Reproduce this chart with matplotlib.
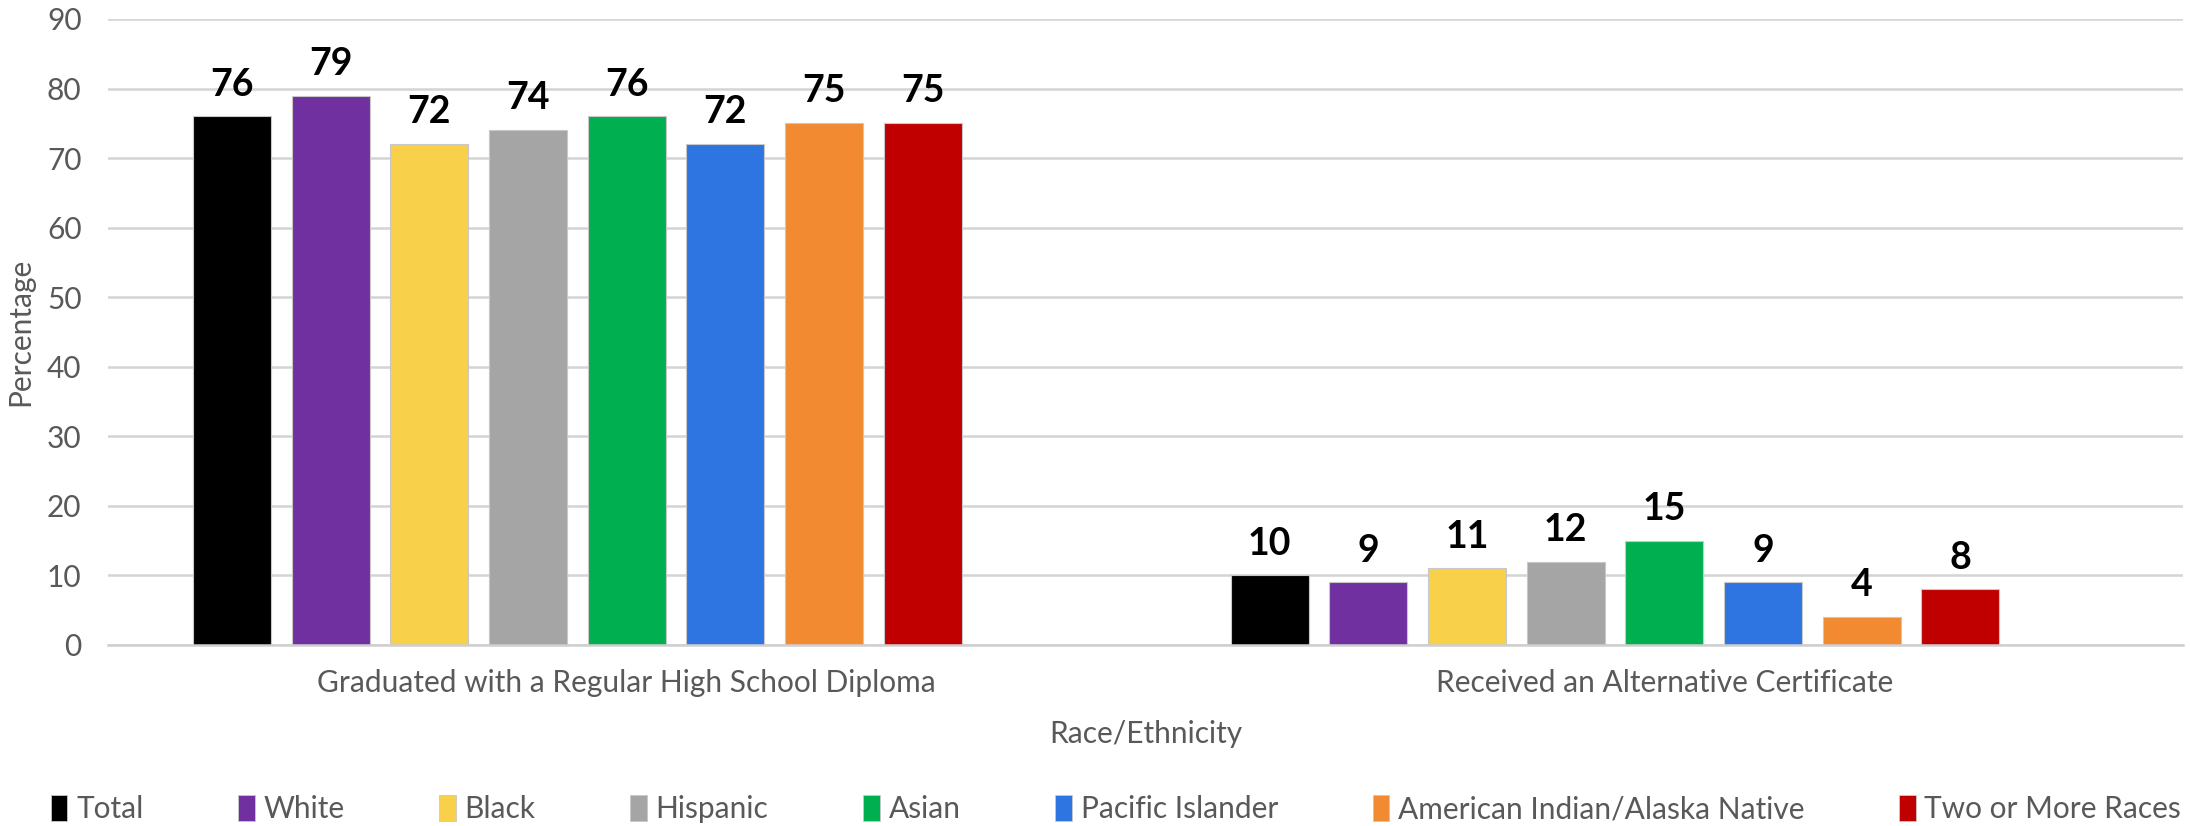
import matplotlib
matplotlib.use("Agg")
import matplotlib.pyplot as plt
from matplotlib.patches import Patch
import numpy as np

categories = ["Graduated with a Regular High School Diploma", "Received an Alternative Certificate"]
series_names = ["Total", "White", "Black", "Hispanic", "Asian", "Pacific Islander",
                "American Indian/Alaska Native", "Two or More Races"]
values = {
    "Total": [76, 10],
    "White": [79, 9],
    "Black": [72, 11],
    "Hispanic": [74, 12],
    "Asian": [76, 15],
    "Pacific Islander": [72, 9],
    "American Indian/Alaska Native": [75, 4],
    "Two or More Races": [75, 8],
}
colors = ["#000000", "#7030A0", "#F8D04A", "#A5A5A5", "#00B050", "#2E75E2", "#F18A30", "#C00000"]
yticks = [0, 10, 20, 30, 40, 50, 60, 70, 80, 90]

FONT = "Lato"
plt.rcParams["font.family"] = [FONT, "DejaVu Sans"]
FS = 21.5

fig = plt.figure(figsize=(21.9, 8.26), dpi=100)
ax = fig.add_axes([108/2190, 181/826, (2183-108)/2190, (807-181)/826])

pitch = 0.0951
width = 0.0752
x = np.arange(len(categories))
for i, name in enumerate(series_names):
    pos = x + (i - 4) * pitch
    ax.bar(pos, values[name], width=width, color=colors[i],
           edgecolor="#C8C8C8", linewidth=0.8, label=name, zorder=3)
    for xp, v in zip(pos, values[name]):
        ax.annotate(str(v), (xp, v), xytext=(0, 15), textcoords="offset points",
                    ha="center", va="baseline", fontsize=27, fontweight="bold",
                    color="#000000", zorder=4)

ax.set_xlim(-0.5, 1.5)
ax.set_ylim(0, 90)
ax.set_yticks(yticks)
ax.set_xticks(x)
ax.set_xticklabels(categories)
ax.grid(axis="y", color="#D4D4D4", linewidth=1.8, zorder=0)
ax.set_axisbelow(True)
for s in ["top", "right", "left"]:
    ax.spines[s].set_visible(False)
ax.spines["bottom"].set_color("#CFCFCF")
ax.spines["bottom"].set_linewidth(1.8)
ax.spines["bottom"].set_zorder(5)
ax.tick_params(axis="both", length=0, labelsize=FS, labelcolor="#595959")
ax.tick_params(axis="y", pad=19)
ax.tick_params(axis="x", pad=17)
ax.set_ylabel("Percentage", fontsize=FS, color="#595959", labelpad=9)
ax.set_xlabel("Race/Ethnicity", fontsize=FS, color="#595959", labelpad=17)

handles = [Patch(facecolor=c, edgecolor="#C8C8C8", linewidth=0.6) for c in colors]
fig.legend(handles, series_names, loc="center", bbox_to_anchor=(1116/2190, 1 - 809/826),
           ncol=8, frameon=False, fontsize=FS, labelcolor="#595959",
           handlelength=0.55, handleheight=1.0, handletextpad=0.3, columnspacing=3.17)

fig.savefig("out.png", dpi=100)
